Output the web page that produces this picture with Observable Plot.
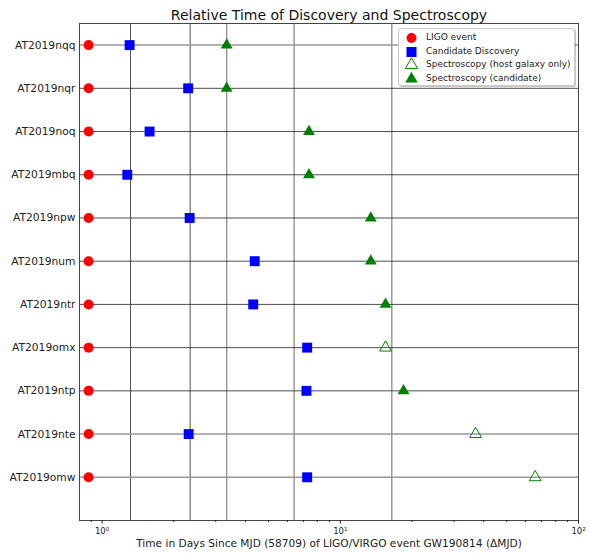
<!DOCTYPE html>
<html>
<head>
<meta charset="utf-8">
<script src="https://cdn.jsdelivr.net/npm/d3@7"></script>
<script src="https://cdn.jsdelivr.net/npm/@observablehq/plot@0.6"></script>
<style>
  body { margin: 0; background: #fff; font-family: "DejaVu Sans", sans-serif; }
  #wrap { position: relative; width: 590px; height: 554px; }
  #legend { position: absolute; left: 398px; top: 28px; width: 177px; height: 58px; background: #fff;
    border: 1px solid #ccc; border-radius: 3px; box-shadow: 1px 1px 1px rgba(0,0,0,0.25);
    font-size: 9px; color: #222; box-sizing: border-box; padding-top: 2px; }
  #legend .row { height: 13.5px; line-height: 13.5px; display: flex; align-items: center; }
  #legend svg { width: 27px; height: 13px; flex: none; }
</style>
</head>
<body>
<div id="wrap"></div>
<script>
// ---- data ----
const names = ["AT2019nqq","AT2019nqr","AT2019noq","AT2019mbq","AT2019npw","AT2019num","AT2019ntr","AT2019omx","AT2019ntp","AT2019nte","AT2019omw"];
const ligoDays = [0.878,0.878,0.878,0.878,0.878,0.878,0.878,0.878,0.878,0.878,0.878];
const discoveryDays = [1.305,2.298,1.583,1.276,2.332,4.373,4.31,7.26,7.21,2.31,7.26];
const specDays = [3.335,3.335,7.39,7.39,13.43,13.43,15.49,15.49,18.43,36.98,65.8];
const specKind = ["candidate","candidate","candidate","candidate","candidate","candidate","candidate","host","candidate","host","host"];
const darkVLines = [1.317, 2.343];
const grayVLines = [3.335, 6.40, 16.45];
const grayRows = [0, 9, 10];
const majorTicks = [1, 10, 100];
const majorLabels = ["10\u2070", "10\u00b9", "10\u00b2"];
const minorTicks = [0.9,2,3,4,5,6,7,8,9,20,30,40,50,60,70,80,90];
const title = "Relative Time of Discovery and Spectroscopy";
const xLabel = "Time in Days Since MJD (58709) of LIGO/VIRGO event GW190814 (\u0394MJD)";
const legendItems = [
  {label: "LIGO event", symbol: "circle", fill: "red", stroke: "none"},
  {label: "Candidate Discovery", symbol: "square", fill: "blue", stroke: "none"},
  {label: "Spectroscopy (host galaxy only)", symbol: "triangle", fill: "none", stroke: "green"},
  {label: "Spectroscopy (candidate)", symbol: "triangle", fill: "green", stroke: "none"}
];

// ---- derived tables ----
const idx = names.map((_, i) => i);
const ligo = idx.map(i => ({x: ligoDays[i], y: i}));
const disc = idx.map(i => ({x: discoveryDays[i], y: i}));
const spec = idx.map(i => ({x: specDays[i], y: i, kind: specKind[i]}));
const rowsDark = idx.filter(i => !grayRows.includes(i));

const chart = Plot.plot({
  width: 590,
  height: 554,
  marginLeft: 79,
  marginRight: 12,
  marginTop: 23,
  marginBottom: 34,
  style: {fontFamily: "DejaVu Sans", fontSize: "11px", color: "#222", background: "white"},
  x: {type: "log", domain: [0.804, 100]},
  y: {type: "linear", domain: [11, -0.5]},
  marks: [
    Plot.ruleX(grayVLines, {stroke: "#999", strokeWidth: 1.5}),
    Plot.ruleX(darkVLines, {stroke: "#222", strokeWidth: 0.8}),
    Plot.ruleY(grayRows, {stroke: "#999", strokeWidth: 1.5}),
    Plot.ruleY(rowsDark, {stroke: "#222", strokeWidth: 0.8}),
    Plot.frame({stroke: "#444", strokeWidth: 1}),
    Plot.axisY(idx, {tickSize: 0, tickPadding: 4, tickFormat: i => names[i], label: null, fontSize: 10.7}),
    Plot.axisX(minorTicks, {tickSize: 2, tickFormat: () => "", label: null}),
    Plot.axisX(majorTicks, {tickSize: 3.5, tickPadding: 4, fontSize: 8.5, tickFormat: (d, i) => majorLabels[majorTicks.indexOf(d)], label: null}),
    Plot.axisX({ticks: [], label: xLabel, labelAnchor: "center", labelArrow: "none", labelOffset: 26, fontSize: 10.6}),
    Plot.dot(ligo, {x: "x", y: "y", r: 5, fill: "red", symbol: "circle"}),
    Plot.dot(disc, {x: "x", y: "y", r: 5.6, fill: "blue", symbol: "square"}),
    Plot.dot(spec.filter(d => d.kind === "candidate"), {x: "x", y: "y", r: 4.4, fill: "green", symbol: "triangle"}),
    Plot.dot(spec.filter(d => d.kind === "host"), {x: "x", y: "y", r: 4.4, fill: "none", stroke: "green", strokeWidth: 1, symbol: "triangle"}),
    Plot.text([title], {frameAnchor: "top", lineAnchor: "bottom", dy: -4, fontSize: 14, fill: "#111"})
  ]
});
const wrap = document.getElementById("wrap");
wrap.appendChild(chart);

// legend
const leg = document.createElement("div");
leg.id = "legend";
const symMap = {circle: d3.symbolCircle, square: d3.symbolSquare, triangle: d3.symbolTriangle};
const areaMap = {circle: Math.PI * 25, square: 100, triangle: Math.PI * 4.6 * 4.6};
for (const it of legendItems) {
  const row = document.createElement("div");
  row.className = "row";
  const path = d3.symbol(symMap[it.symbol], areaMap[it.symbol])();
  row.innerHTML = `<svg viewBox="-13.5 -6.5 27 13"><path transform="translate(-1,0.5)" d="${path}" fill="${it.fill}" stroke="${it.stroke}" stroke-width="1"/></svg><span>${it.label}</span>`;
  leg.appendChild(row);
}
wrap.appendChild(leg);
</script>
</body>
</html>
